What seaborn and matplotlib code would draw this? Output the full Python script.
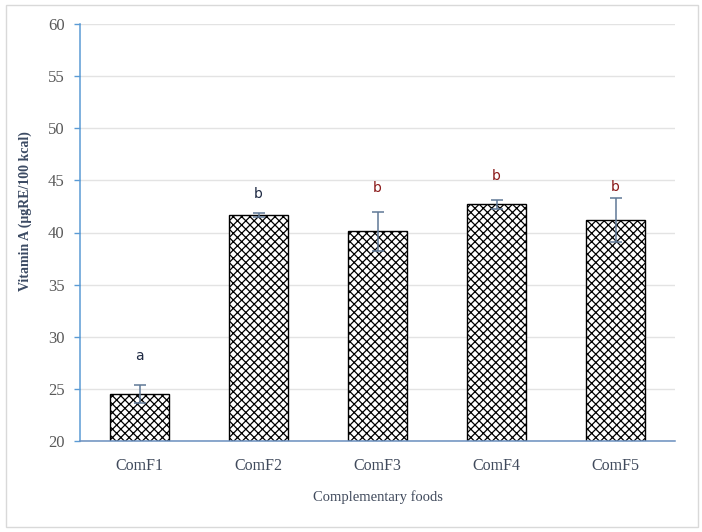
import pandas as pd
import matplotlib.pyplot as plt
import seaborn as sns
from matplotlib.patches import Rectangle

foods = ["ComF1", "ComF2", "ComF3", "ComF4", "ComF5"]
vit_a = [24.5, 41.7, 40.1, 42.7, 41.2]
err = [0.9, 0.2, 1.9, 0.45, 2.1]
letters = ["a", "b", "b", "b", "b"]
letter_y = [28.15, 43.7, 44.3, 45.4, 44.35]
letter_colors = ["#1f2a44", "#1f2a44", "#8b1a1a", "#8b1a1a", "#8b1a1a"]

df = pd.DataFrame({"Food": foods, "VitA": vit_a})

sns.set_theme(style="white")
plt.rcParams['font.family'] = ['Liberation Serif', 'DejaVu Serif']
plt.rcParams['hatch.linewidth'] = 0.9

fig = plt.figure(figsize=(7.02, 5.32), dpi=100)
ax = fig.add_axes([80 / 702, 91 / 532, 595 / 702, 417 / 532])

sns.barplot(data=df, x="Food", y="VitA", color="white", edgecolor="black",
            linewidth=1.0, width=0.5, errorbar=None, ax=ax)
for p in ax.patches:
    p.set_hatch("xxxx")

centers = [p.get_x() + p.get_width() / 2 for p in ax.patches]
ax.errorbar(centers, vit_a, yerr=err, fmt="none", ecolor="#5f7896",
            elinewidth=1.1, capsize=4, capthick=1.1)
for x, ly, lab, c in zip(centers, letter_y, letters, letter_colors):
    ax.text(x, ly, lab, ha="center", va="center", fontsize=10,
            color=c, family=['DejaVu Sans'])

ax.set_ylim(20, 60)
ax.set_yticks(range(20, 61, 5))
ax.set_xlim(-0.5, 4.5)
ax.yaxis.grid(True, color="#e3e3e3", linewidth=1)
ax.set_axisbelow(True)
for s in ["top", "right"]:
    ax.spines[s].set_visible(False)
ax.spines["left"].set_color("#5b9bd5")
ax.spines["bottom"].set_color("#6a8fbf")
ax.spines["left"].set_linewidth(1.1)
ax.spines["bottom"].set_linewidth(1.1)
ax.tick_params(axis="y", direction="out", length=4, width=1, color="#5b9bd5",
               labelsize=12, labelcolor="#595959", left=True, pad=7)
ax.tick_params(axis="x", length=0, labelsize=11.5, labelcolor="#404a5c", pad=12)

ax.set_xlabel("Complementary foods", fontsize=10.5, color="#404a5c", labelpad=12)
ax.set_ylabel("Vitamin A (μgRE/100 kcal)", fontsize=10, fontweight="bold",
              color="#3b4a63")
ax.yaxis.set_label_coords(-0.081, 0.552)

fig.patches.append(Rectangle((6 / 702, 5 / 532), 692 / 702, 522 / 532,
                             transform=fig.transFigure, fill=False,
                             edgecolor="#d9d9d9", linewidth=1))

fig.savefig("out.png", dpi=100)
plt.close()
